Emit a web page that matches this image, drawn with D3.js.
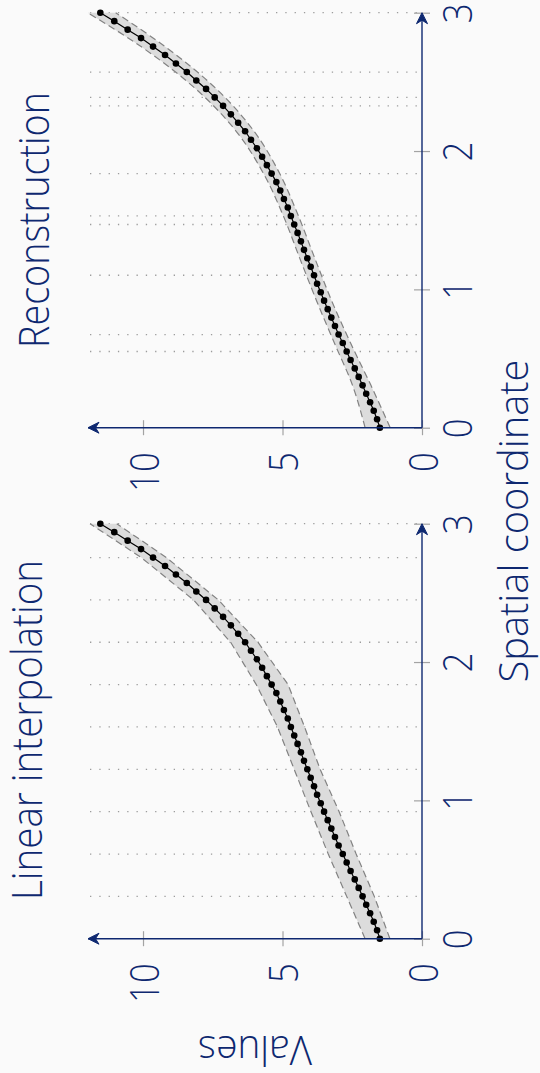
<!DOCTYPE html>
<html>
<head>
<meta charset="utf-8">
<script src="https://cdn.jsdelivr.net/npm/d3@7"></script>
<style>
  html, body { margin: 0; padding: 0; background: #fafafa; }
  svg { display: block; }
  text { font-family: "Open Sans", "Noto Sans", sans-serif; font-weight: 300; }
</style>
</head>
<body>
<svg id="chart" width="540" height="1073"></svg>
<script>
// Sampling grid: 50 equally spaced points on [0, 3]
const samplePositions = d3.range(50).map(i => i * 3 / 49);

// Mean estimate at each sample point
const meanValues = [
  1.51, 1.61, 1.73, 1.86, 2.00, 2.13, 2.27, 2.41, 2.56, 2.70,
  2.84, 2.99, 3.12, 3.25, 3.38, 3.51, 3.63, 3.76, 3.87, 3.99,
  4.11, 4.23, 4.34, 4.46, 4.58, 4.70, 4.81, 4.95, 5.08, 5.22,
  5.39, 5.56, 5.73, 5.92, 6.13, 6.34, 6.59, 6.85, 7.13, 7.43,
  7.74, 8.09, 8.43, 8.82, 9.21, 9.64, 10.07, 10.55, 11.03, 11.53
];

// Linear interpolation: knot positions and band bounds at the knots
const interpKnots = [0, 0.306, 0.612, 0.918, 1.224, 1.531, 1.837, 2.143, 2.449, 2.755, 3.0];
const interpUpper = [2.04, 2.70, 3.36, 3.98, 4.58, 5.18, 5.94, 6.86, 8.19, 10.06, 11.90];
const interpLower = [1.15, 1.71, 2.36, 2.97, 3.65, 4.21, 4.80, 5.88, 7.30, 9.16, 10.94];

// Reconstruction: sensor positions and smooth band bounds
const reconSensors = [0.551, 0.673, 1.102, 1.469, 1.531, 1.837, 2.327, 2.388, 2.571, 3.0];
const reconBandPos = [0, 0.306, 0.612, 0.918, 1.224, 1.531, 1.837, 2.143, 2.449, 2.755, 3.0];
const reconUpper = [2.04, 2.49, 3.14, 3.78, 4.38, 4.97, 5.68, 6.66, 8.11, 10.07, 11.98];
const reconLower = [1.14, 1.83, 2.56, 3.24, 3.84, 4.43, 5.10, 6.02, 7.37, 9.21, 10.98];

const spatialTicks = [0, 1, 2, 3];
const valueTicks = [0, 5, 10];
const panelTitles = ["Linear interpolation", "Reconstruction"];
const axisTitles = ["Spatial coordinate", "Values"];

const navy = "#0e2870";
const tickGray = "#a3a3a3";

const svg = d3.select("#chart");
svg.append("rect").attr("width", 540).attr("height", 1073).attr("fill", "#fafafa");

// value axis runs right-to-left, shared by both panels
const valueX = d3.scaleLinear().domain([0, 11.9]).range([422, 90]);

const panels = [
  { title: panelTitles[0], base: 938.7, grid: interpKnots.slice(1), bandPos: interpKnots,
    upper: interpUpper, lower: interpLower, curve: d3.curveLinear, titleX: 42, titleY: 730, titleLen: 340 },
  { title: panelTitles[1], base: 427.7, grid: reconSensors, bandPos: reconBandPos,
    upper: reconUpper, lower: reconLower, curve: d3.curveMonotoneY, titleX: 49, titleY: 220, titleLen: 256 }
];

function arrowHead(g, x, y, angle) {
  g.append("path")
    .attr("d", "M0,0 L-11,-5.5 L-7.5,0 L-11,5.5 Z")
    .attr("transform", `translate(${x},${y}) rotate(${angle})`)
    .attr("fill", navy)
    .attr("stroke", navy)
    .attr("stroke-width", 1)
    .attr("stroke-linejoin", "round");
}

panels.forEach(p => {
  const sY = d3.scaleLinear().domain([0, 3]).range([p.base, p.base - 415]);
  const g = svg.append("g");

  // dotted grid lines at knot / sensor positions
  g.append("g").selectAll("line").data(p.grid).join("line")
    .attr("x1", valueX(11.9)).attr("x2", valueX(0))
    .attr("y1", d => sY(d)).attr("y2", d => sY(d))
    .attr("stroke", "#9c9c9c").attr("stroke-width", 1.3)
    .attr("stroke-dasharray", "1.3,8");

  // uncertainty band
  const band = p.bandPos.map((s, i) => ({ s, hi: p.upper[i], lo: p.lower[i] }));
  g.append("path").datum(band)
    .attr("d", d3.area().curve(p.curve)
      .y(d => sY(d.s)).x0(d => valueX(d.hi)).x1(d => valueX(d.lo)))
    .attr("fill", "#dcdcdc");
  ["hi", "lo"].forEach(k => {
    g.append("path").datum(band)
      .attr("d", d3.line().curve(p.curve).y(d => sY(d.s)).x(d => valueX(d[k])))
      .attr("fill", "none").attr("stroke", "#828282").attr("stroke-width", 1.2)
      .attr("stroke-dasharray", "7,4");
  });

  // mean curve with markers
  const pts = samplePositions.map((s, i) => ({ s, v: meanValues[i] }));
  g.append("path").datum(pts)
    .attr("d", d3.line().y(d => sY(d.s)).x(d => valueX(d.v)))
    .attr("fill", "none").attr("stroke", "#000").attr("stroke-width", 1.2);
  g.append("g").selectAll("circle").data(pts).join("circle")
    .attr("cx", d => valueX(d.v)).attr("cy", d => sY(d.s)).attr("r", 3.3)
    .attr("fill", "#000");

  // value axis (horizontal)
  const gx = g.append("g").attr("transform", `translate(0,${p.base})`)
    .call(d3.axisBottom(valueX).tickValues(valueTicks).tickSizeOuter(0).tickFormat(d3.format("d")))
    .attr("font-size", null).attr("font-family", null);
  gx.select(".domain").remove();
  gx.selectAll(".tick line").attr("y1", -7.5).attr("y2", 7.5)
    .attr("stroke", tickGray).attr("stroke-width", 1.2);
  gx.selectAll(".tick text")
    .attr("x", null).attr("y", null).attr("dy", null)
    .attr("fill", navy).attr("font-size", 40).attr("text-anchor", "end")
    .attr("transform", "translate(15,24.5) rotate(-90) scale(0.87,1)");

  // spatial axis (vertical)
  const gy = g.append("g").attr("transform", `translate(${valueX(0)},0)`)
    .call(d3.axisRight(sY).tickValues(spatialTicks).tickSizeOuter(0).tickFormat(d3.format("d")))
    .attr("font-size", null).attr("font-family", null);
  gy.select(".domain").remove();
  gy.selectAll(".tick line").attr("x1", -8).attr("x2", 8)
    .attr("stroke", tickGray).attr("stroke-width", 1.2);
  gy.selectAll(".tick text")
    .attr("x", null).attr("y", null).attr("dy", null)
    .attr("fill", navy).attr("font-size", 40).attr("text-anchor", "middle")
    .attr("transform", "translate(50,0) rotate(-90) scale(0.87,1)");

  // axis lines with arrows
  g.append("line").attr("x1", valueX(0)).attr("x2", valueX(11.9) - 2)
    .attr("y1", p.base).attr("y2", p.base)
    .attr("stroke", navy).attr("stroke-width", 1.4);
  arrowHead(g, valueX(11.9) - 2, p.base, 180);
  g.append("line").attr("x1", valueX(0)).attr("x2", valueX(0))
    .attr("y1", p.base).attr("y2", sY(3) + 3)
    .attr("stroke", navy).attr("stroke-width", 1.4);
  arrowHead(g, valueX(0), sY(3), -90);

  // panel title
  g.append("text")
    .attr("transform", `translate(${p.titleX},${p.titleY}) rotate(-90)`)
    .attr("text-anchor", "middle").attr("fill", navy).attr("font-size", 42)
    .attr("textLength", p.titleLen).attr("lengthAdjust", "spacingAndGlyphs")
    .text(p.title);
});

// shared axis titles
svg.append("text")
  .attr("transform", "translate(528,521) rotate(-90)")
  .attr("text-anchor", "middle").attr("fill", navy).attr("font-size", 40)
  .attr("textLength", 323).attr("lengthAdjust", "spacingAndGlyphs")
  .text(axisTitles[0]);
svg.append("text")
  .attr("transform", "translate(255,1036) rotate(180)")
  .attr("text-anchor", "middle").attr("fill", navy).attr("font-size", 40)
  .attr("textLength", 114).attr("lengthAdjust", "spacingAndGlyphs")
  .text(axisTitles[1]);
</script>
</body>
</html>
